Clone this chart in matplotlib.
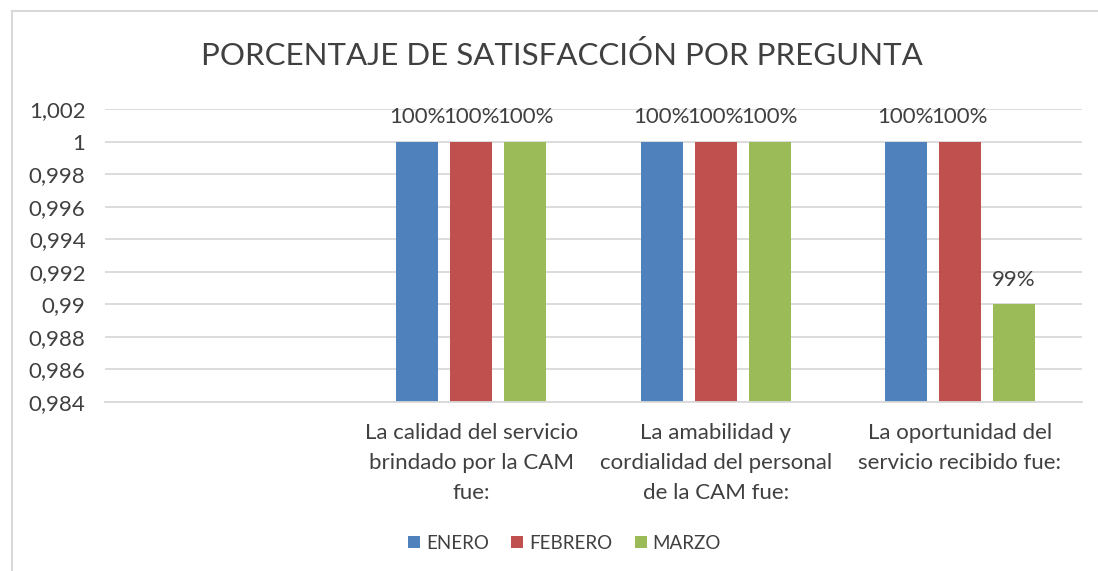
import matplotlib.pyplot as plt
import numpy as np

categories = ['', 'La calidad del servicio\nbrindado por la CAM\nfue:',
              'La amabilidad y\ncordialidad del personal\nde la CAM fue:',
              'La oportunidad del\nservicio recibido fue:']
series = ['ENERO', 'FEBRERO', 'MARZO']
enero = [np.nan, 1.0, 1.0, 1.0]
febrero = [np.nan, 1.0, 1.0, 1.0]
marzo = [np.nan, 1.0, 1.0, 0.99]
labels_enero = ['', '100%', '100%', '100%']
labels_febrero = ['', '100%', '100%', '100%']
labels_marzo = ['', '100%', '100%', '99%']
colors = ['#4f81bd', '#c0504d', '#9bbb59']
yticks = [0.984, 0.986, 0.988, 0.99, 0.992, 0.994, 0.996, 0.998, 1, 1.002]

plt.rcParams['font.family'] = ['Lato', 'DejaVu Sans']

fig = plt.figure(figsize=(10.98, 5.71), dpi=100)
ax = fig.add_axes([0.0956, 0.296, 0.8898, 0.513])

x = np.arange(len(categories))
w = 0.172
step = 0.221
base = 0.984
for i, (vals, labs, name) in enumerate(zip([enero, febrero, marzo],
                                           [labels_enero, labels_febrero, labels_marzo],
                                           series)):
    pos = x + (i - 1) * step
    heights = [v - base for v in vals]
    ax.bar(pos, heights, w, bottom=base, color=colors[i], label=name, zorder=2)
    for p, v, t in zip(pos, vals, labs):
        if t:
            ax.text(p, v + 0.0015, t, ha='center', va='center', fontsize=16, color='#404040')

ax.set_xlim(-0.5, len(categories) - 0.5)
ax.set_ylim(0.984, 1.002)
ax.set_yticks(yticks)
ax.set_yticklabels([('%g' % v).replace('.', ',') for v in yticks])
ax.set_xticks(x)
ax.set_xticklabels(categories, linespacing=1.62)
ax.tick_params(axis='both', length=0, labelsize=16, colors='#404040')
ax.tick_params(axis='x', pad=15)
ax.tick_params(axis='y', pad=14)
ax.grid(axis='y', color='#d9d9d9', linewidth=1.3, zorder=0)
for s in ['top', 'right', 'left']:
    ax.spines[s].set_visible(False)
ax.spines['bottom'].set_color('#d9d9d9')
ax.spines['bottom'].set_linewidth(1.3)

fig.text(0.512, 0.902, 'PORCENTAJE DE SATISFACCIÓN POR PREGUNTA', ha='center', va='center',
         fontsize=22.5, color='#404040')

fig.legend(loc='center', bbox_to_anchor=(0.514, 0.049), ncol=3, frameon=False,
           fontsize=13.5, handlelength=0.65, handleheight=0.65, handletextpad=0.3,
           columnspacing=1.2, labelcolor='#404040')

fig.add_artist(plt.Line2D([0.0105, 0.0105], [0, 0.981], transform=fig.transFigure,
                          color='#d9d9d9', linewidth=1.5))
fig.add_artist(plt.Line2D([0.0105, 1.0], [0.981, 0.981], transform=fig.transFigure,
                          color='#d9d9d9', linewidth=1.5))

fig.savefig('out.png', dpi=100, facecolor='white')
